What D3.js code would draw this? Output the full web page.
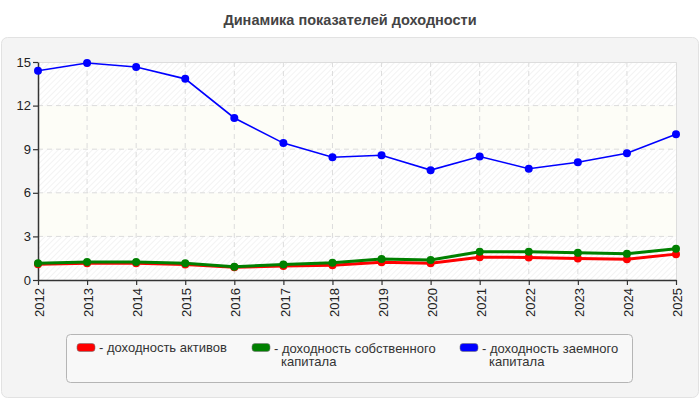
<!DOCTYPE html>
<html>
<head>
<meta charset="utf-8">
<script src="https://cdn.jsdelivr.net/npm/d3@7"></script>
<style>
body { margin: 0; background: #fff; }
text { font-family: "Liberation Sans", Arial, sans-serif; }
</style>
</head>
<body>
<div id="chart"></div>
<script>
var years = ["2012","2013","2014","2015","2016","2017","2018","2019","2020","2021","2022","2023","2024","2025"];
var assets = [1.08, 1.15, 1.15, 1.06, 0.88, 0.97, 1.02, 1.22, 1.15, 1.57, 1.55, 1.48, 1.43, 1.78];
var equity = [1.15, 1.24, 1.24, 1.15, 0.92, 1.06, 1.18, 1.45, 1.38, 1.94, 1.94, 1.87, 1.80, 2.15];
var borrowed = [14.4, 14.93, 14.66, 13.84, 11.15, 9.42, 8.45, 8.58, 7.56, 8.5, 7.66, 8.1, 8.72, 10.03];
var yTicks = [0, 3, 6, 9, 12, 15];
var seriesNames = [["- доходность активов"], ["- доходность собственного", "капитала"], ["- доходность заемного", "капитала"]];
var seriesColors = ["#ff0000", "#008000", "#0000ff"];

var W = 700, H = 400;
var margin = {top: 62, right: 24, bottom: 120, left: 38},
width = W - margin.left - margin.right,
height = H - margin.top - margin.bottom;

var svg = d3.select("#chart")
.append("svg")
.attr("width", W)
.attr("height", H);

// hatch pattern
var defs = svg.append("defs");
var pat = defs.append("pattern")
    .attr("id", "hatch")
    .attr("patternUnits", "userSpaceOnUse")
    .attr("width", 4).attr("height", 4)
    .attr("patternTransform", "rotate(45)");
pat.append("rect").attr("width", 4).attr("height", 4).attr("fill", "#ffffff");
pat.append("line").attr("x1", 0).attr("y1", 0).attr("x2", 0).attr("y2", 4)
    .attr("stroke", "#ececec").attr("stroke-width", 1.2);

// title
svg.append("text")
    .attr("x", 350).attr("y", 25)
    .attr("text-anchor", "middle")
    .style("font-size", "14.5px").style("font-weight", "bold")
    .attr("fill", "#444")
    .text("Динамика показателей доходности");

// outer panel
svg.append("rect")
    .attr("x", 1.5).attr("y", 37.5).attr("width", 697).attr("height", 360)
    .attr("rx", 6)
    .attr("fill", "#f4f4f4").attr("stroke", "#e2e2e2");

var g = svg.append("g")
    .attr("transform", "translate(" + margin.left + "," + margin.top + ")");

var x = d3.scalePoint()
    .domain(years)
    .range([0, width]);

var y = d3.scaleLinear()
    .domain([0, 15])
    .range([height, 0]);

// bands
var bands = d3.pairs(yTicks);
g.selectAll(".band")
.data(bands)
.enter()
.append("rect")
.attr("x", 0)
.attr("width", width)
.attr("y", function(d) { return y(d[1]); })
.attr("height", function(d) { return y(d[0]) - y(d[1]); })
.attr("fill", function(d, i) { return i % 2 == 0 ? "url(#hatch)" : "#fdfdf7"; });

// grid
g.selectAll(".hgrid")
.data(yTicks.slice(1, -1))
.enter()
.append("line")
.attr("x1", 0).attr("x2", width)
.attr("y1", function(d) { return y(d); })
.attr("y2", function(d) { return y(d); })
.attr("stroke", "#dcdcdc").attr("stroke-dasharray", "5,4");

g.selectAll(".vgrid")
.data(years.slice(1, -1))
.enter()
.append("line")
.attr("y1", 0).attr("y2", height)
.attr("x1", function(d) { return x(d); })
.attr("x2", function(d) { return x(d); })
.attr("stroke", "#dcdcdc").attr("stroke-dasharray", "5,4");

// top & right border
g.append("path")
    .attr("d", "M0,0.5H" + (width + 0.5) + "V" + height)
    .attr("fill", "none").attr("stroke", "#dddddd");

// axes
var xAxis = g.append("g")
    .attr("transform", "translate(0," + height + ")")
    .call(d3.axisBottom(x).tickSize(5).tickSizeOuter(0));
xAxis.selectAll("text")
    .attr("transform", "translate(-14,8)rotate(-90)")
    .attr("dy", "0.9em")
    .style("text-anchor", "end");

var yAxis = g.append("g")
    .call(d3.axisLeft(y).tickValues(yTicks).tickSize(5).tickSizeOuter(0));

[xAxis, yAxis].forEach(function(a) {
    a.select(".domain").attr("stroke", "#333").attr("stroke-width", 1.5);
    a.selectAll(".tick line").attr("stroke", "#333").attr("stroke-width", 1.2);
    a.selectAll("text").style("font-size", "13px").attr("fill", "#222");
});
yAxis.selectAll("text").attr("x", -7);

// lines
var allSeries = [assets, equity, borrowed];
var widths = [3, 3, 1.6];
var line = d3.line()
    .x(function(d, i) { return x(years[i]); })
    .y(function(d) { return y(d); });

allSeries.forEach(function(s, k) {
    g.append("path")
        .datum(s)
        .attr("fill", "none")
        .attr("stroke", seriesColors[k])
        .attr("stroke-width", widths[k])
        .attr("d", line);
    g.selectAll(".dot" + k)
        .data(s)
        .enter()
        .append("circle")
        .attr("cx", function(d, i) { return x(years[i]); })
        .attr("cy", function(d) { return y(d); })
        .attr("r", 4)
        .attr("fill", seriesColors[k]);
});

// legend
svg.append("rect")
    .attr("x", 66.5).attr("y", 334.5).attr("width", 566).attr("height", 48)
    .attr("rx", 4)
    .attr("fill", "#f8f8f8").attr("stroke", "#b5b5b5");

var legX = [77, 252, 460];
var legY = [352, 353, 353];
seriesNames.forEach(function(parts, k) {
    svg.append("rect")
        .attr("x", legX[k]).attr("y", 343.5).attr("width", 18).attr("height", 8)
        .attr("rx", 3)
        .attr("fill", seriesColors[k]).attr("stroke", "#777").attr("stroke-width", 0.6);
    parts.forEach(function(p, j) {
        svg.append("text")
            .attr("x", j == 0 ? legX[k] + 22 : legX[k] + 29)
            .attr("y", legY[k] + j * 13)
            .style("font-size", "13px").attr("fill", "#333")
            .text(p);
    });
});
</script>
</body>
</html>
